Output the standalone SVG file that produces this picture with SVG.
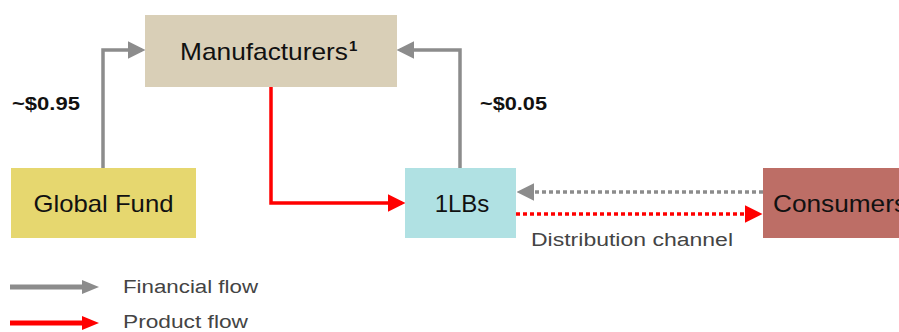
<svg xmlns="http://www.w3.org/2000/svg" width="899" height="332" viewBox="0 0 899 332">
<style>
.lbl{font-family:"Liberation Sans",Arial,sans-serif;fill:#111;}
.node{font-size:24px;}
.amt{font-size:19px;font-weight:bold;}
.leg{font-family:"Liberation Sans",Arial,sans-serif;font-size:18px;fill:#444;}
.g{stroke:#8c8c8c;stroke-width:3.5;fill:none;}
.r{stroke:#ff0000;stroke-width:3.5;fill:none;}
</style>
<defs>
<marker id="ag" markerWidth="5" markerHeight="5" refX="4" refY="2.5" orient="auto" markerUnits="strokeWidth"><path d="M0,0 L5,2.5 L0,5 Z" fill="#8c8c8c"/></marker>
<marker id="ar" markerWidth="5" markerHeight="5" refX="4" refY="2.5" orient="auto" markerUnits="strokeWidth"><path d="M0,0 L5,2.5 L0,5 Z" fill="#ff0000"/></marker>
</defs>
<rect width="899" height="332" fill="#fff"/>
<g id="connectors">
<path class="g" d="M103,168 V50 H142" marker-end="url(#ag)"/>
<path class="g" d="M460,168 V50 H400" marker-end="url(#ag)"/>
<path class="r" d="M271,87 V203 H402" marker-end="url(#ar)"/>
<path class="g" d="M763,192 H520" stroke-dasharray="4 3" stroke-width="4" marker-end="url(#ag)"/>
<path class="r" d="M516,214 H759" stroke-dasharray="4 3" stroke-width="4" marker-end="url(#ar)"/>
</g>
<g id="manufacturers">
<rect x="145" y="15" width="252" height="72" fill="#d9cfb7"/>
<text class="lbl node" x="180" y="60" textLength="168" lengthAdjust="spacingAndGlyphs">Manufacturers</text>
<text class="lbl" x="349" y="51" font-size="15" font-weight="bold">1</text>
</g>
<g id="global-fund">
<rect x="11" y="168" width="185" height="70" fill="#e6d76f"/>
<text class="lbl node" x="103.5" y="212" text-anchor="middle" textLength="140" lengthAdjust="spacingAndGlyphs">Global Fund</text>
</g>
<g id="ilbs">
<rect x="405" y="168" width="111" height="70" fill="#b0e1e3"/>
<text class="lbl node" x="462" y="212" text-anchor="middle">1LBs</text>
</g>
<g id="consumers">
<rect x="763" y="168" width="140" height="70" fill="#bd6e66"/>
<text class="lbl node" x="773" y="212" textLength="134" lengthAdjust="spacingAndGlyphs">Consumers</text>
</g>
<g id="labels">
<text class="lbl amt" x="12" y="110" textLength="68" lengthAdjust="spacingAndGlyphs">~$0.95</text>
<text class="lbl amt" x="480" y="110" textLength="67" lengthAdjust="spacingAndGlyphs">~$0.05</text>
<text class="leg" x="531" y="246" textLength="202" lengthAdjust="spacingAndGlyphs">Distribution channel</text>
</g>
<g id="legend">
<line x1="10" y1="287" x2="84" y2="287" stroke="#8c8c8c" stroke-width="5"/>
<path d="M82,280 L99,287 L82,294 Z" fill="#8c8c8c"/>
<text class="leg" x="123" y="293" textLength="135" lengthAdjust="spacingAndGlyphs">Financial flow</text>
<line x1="10" y1="323" x2="84" y2="323" stroke="#ff0000" stroke-width="5"/>
<path d="M82,316 L99,323 L82,330 Z" fill="#ff0000"/>
<text class="leg" x="123" y="328" textLength="125" lengthAdjust="spacingAndGlyphs">Product flow</text>
</g>
</svg>
